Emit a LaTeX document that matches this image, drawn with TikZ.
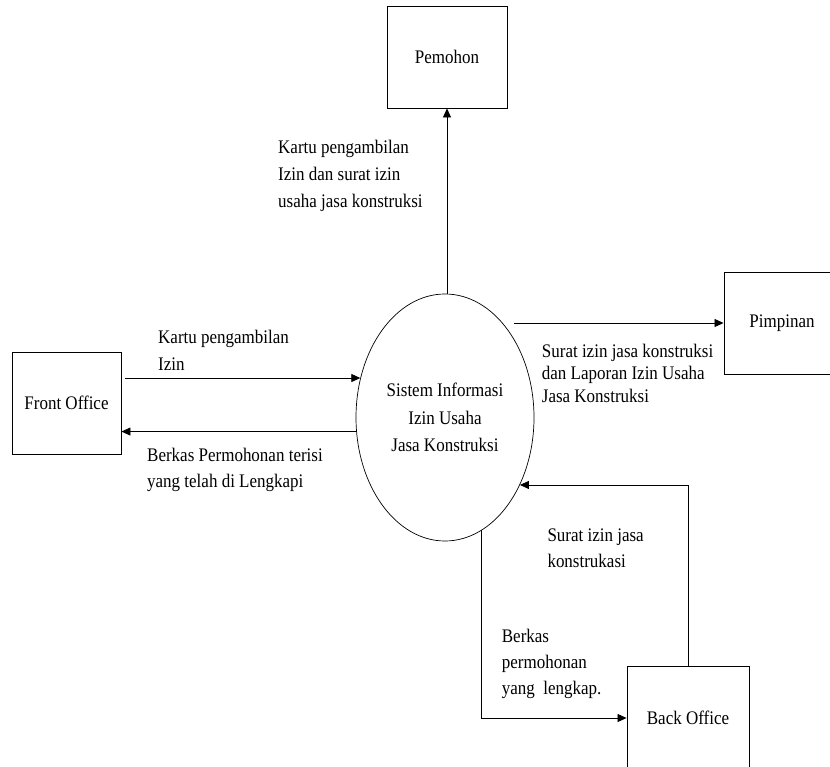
\documentclass[tikz,border=0pt]{standalone}
\usepackage{fontspec}
\setmainfont[FakeStretch=0.885]{Liberation Serif}
\usetikzlibrary{arrows.meta,shapes.geometric,calc}
\begin{document}
\begin{tikzpicture}[x=1pt,y=-1pt,
  box/.style={draw,line width=0.9pt,rectangle,inner sep=0pt,font=\fontsize{19.2}{22}\selectfont},
  flow/.style={line width=0.8pt,-{Triangle[length=9pt,width=8pt]}},
  lbl/.style={anchor=north west,inner sep=0pt,align=left}]
\useasboundingbox (0,0) rectangle (830,767);
\clip (0,0) rectangle (830,767);
\node[box,minimum width=120pt,minimum height=102pt] (pem) at (447,57) {Pemohon};
\node[box,minimum width=109pt,minimum height=102pt] (fo) at (66.5,403) {Front Office};
\node[box,minimum width=116pt,minimum height=102pt] (pim) at (782,323) {Pimpinan};
\node[box,minimum width=122pt,minimum height=104pt] (bk) at (688,718) {Back Office};
\node[ellipse,draw,line width=0.7pt,minimum width=178pt,minimum height=247pt,inner sep=0pt,align=center,font=\fontsize{19.2}{27.5}\selectfont] (sys) at (445,417.5) {Sistem Informasi\\Izin Usaha\\Jasa Konstruksi};
% connectors
\draw[flow] (pem.south |- sys.north) -- (pem.south);
\draw[flow] ($(fo.east |- sys.155)+(4,0)$) -- (sys.155);
\draw[flow] (sys.189) -- (fo.east |- sys.189);
\draw[flow] ($(sys.east |- pim.west)+(-20,0)$) -- (pim.west);
\draw[flow] (bk.north) |- (sys.318);
\draw[flow] (sys.288) |- (bk.west);
% labels
\node[lbl,font=\fontsize{19.2}{27}\selectfont] (l1) at (278,139.8) {Kartu pengambilan\\Izin dan surat izin\\usaha jasa konstruksi};
\node[lbl,font=\fontsize{19.2}{27}\selectfont] (l2) at (158,330.1) {Kartu pengambilan\\Izin};
\node[lbl,font=\fontsize{19.2}{26}\selectfont] (l3) at (147,447.5) {Berkas Permohonan terisi\\yang telah di Lengkapi};
\node[lbl,font=\fontsize{19.2}{22.5}\selectfont] (l4) at (541.7,343.8) {Surat izin jasa konstruksi\\dan Laporan Izin Usaha\\Jasa Konstruksi};
\node[lbl,font=\fontsize{19.2}{26}\selectfont] (l5) at (547.3,528.5) {Surat izin jasa\\konstrukasi};
\node[lbl,font=\fontsize{19.2}{26.3}\selectfont] (l6) at (501.7,628.5) {Berkas\\permohonan\\yang~ lengkap.};
\end{tikzpicture}
\end{document}
